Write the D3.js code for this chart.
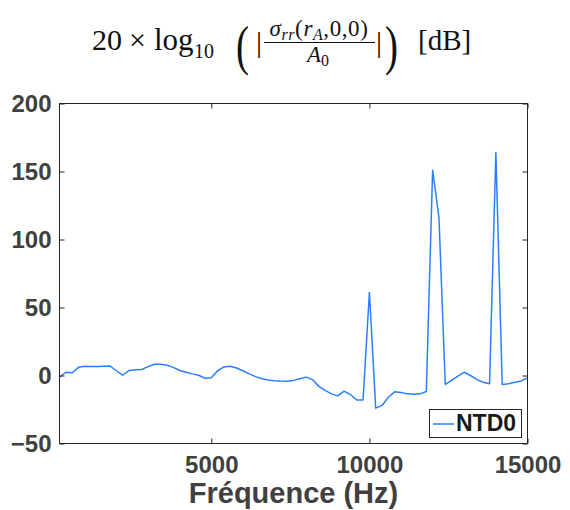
<!DOCTYPE html>
<html>
<head>
<meta charset="utf-8">
<script src="https://cdn.jsdelivr.net/npm/d3@7"></script>
<style>
  html, body { margin: 0; padding: 0; background: #fff; }
  svg { display: block; }
</style>
</head>
<body>
<svg id="chart" width="570" height="510"></svg>
<script>
// ---- data ----
const freqs = [200,400,600,800,1000,1200,1400,1600,1800,2000,2200,2400,2600,2800,3000,3200,3400,3600,3800,4000,
  4200,4400,4600,4800,5000,5200,5400,5600,5800,6000,6200,6400,6600,6800,7000,7200,7400,7600,7800,8000,
  8200,8400,8600,8800,9000,9200,9400,9600,9800,10000,10200,10400,10600,10800,11000,11200,11400,11600,11800,12000,
  12200,12400,12600,12800,13000,13200,13400,13600,13800,14000,14200,14400,14600,14800,15000];
const ntd0 = [-1.2,2.4,2.0,6.0,6.8,6.6,6.7,6.8,7.0,3.5,0.2,3.7,4.2,4.4,6.5,8.3,8.3,7.5,6.0,3.7,
  2.4,1.2,0.2,-2.0,-1.7,3.5,6.3,6.8,5.5,3.5,1.2,-0.8,-2.4,-3.3,-3.8,-4.1,-4.2,-3.6,-2.4,-1.2,
  -3.0,-8.0,-11.0,-13.5,-15.0,-11.5,-14.0,-18.0,-18.0,61.0,-24.0,-22.0,-16.0,-12.0,-12.5,-13.5,-13.8,-13.5,-11.8,151.0,
  116.0,-6.6,-3.5,-0.5,2.4,0.0,-3.0,-5.0,-6.0,164.0,-6.6,-6.0,-5.0,-4.0,-1.7];
const xTicks = [5000, 10000, 15000];
const yTicks = [-50, 0, 50, 100, 150, 200];
const xDomain = [200, 15000];
const yDomain = [-50, 200];
const seriesName = "NTD0";
const xLabel = "Fréquence (Hz)";

// ---- layout ----
const L = 59.5, R = 527.5, T = 103.5, B = 443.5;
const svg = d3.select("#chart");
const x = d3.scaleLinear().domain(xDomain).range([L, R]);
const y = d3.scaleLinear().domain(yDomain).range([B, T]);
const axisColor = "#262626";
const labelColor = "#404040";
const lineColor = "#2b7fff";

// line
const line = d3.line().x((d, i) => x(freqs[i])).y(d => y(d));
svg.append("path").datum(ntd0)
  .attr("fill", "none").attr("stroke", lineColor).attr("stroke-width", 1.5)
  .attr("stroke-linejoin", "round")
  .attr("d", line);

// axes
const tickFont = "bold 24px 'Liberation Sans', Arial, Helvetica, sans-serif";
const gB = svg.append("g").attr("transform", `translate(0,${B})`)
  .call(d3.axisBottom(x).tickValues(xTicks).tickSizeInner(-5).tickSizeOuter(0).tickPadding(12).tickFormat(d3.format("d")));
const gL = svg.append("g").attr("transform", `translate(${L},0)`)
  .call(d3.axisLeft(y).tickValues(yTicks).tickSizeInner(-5).tickSizeOuter(0).tickPadding(8).tickFormat(d3.format("d")));
const gT = svg.append("g").attr("transform", `translate(0,${T})`)
  .call(d3.axisTop(x).tickValues(xTicks).tickSizeInner(-5).tickSizeOuter(0).tickFormat(""));
const gR = svg.append("g").attr("transform", `translate(${R},0)`)
  .call(d3.axisRight(y).tickValues(yTicks).tickSizeInner(-5).tickSizeOuter(0).tickFormat(""));
[gB, gL, gT, gR].forEach(g => {
  g.select(".domain").remove();
  g.selectAll(".tick line").attr("stroke", axisColor).attr("stroke-width", 1);
  g.selectAll(".tick text").attr("fill", labelColor).style("font", tickFont);
});
// frame
svg.append("rect").attr("x", L).attr("y", T).attr("width", R - L).attr("height", B - T)
  .attr("fill", "none").attr("stroke", axisColor).attr("stroke-width", 1);

// x label
svg.append("text").attr("x", (L + R) / 2).attr("y", 503).attr("text-anchor", "middle")
  .attr("fill", labelColor).style("font", "bold 29px 'Liberation Sans', Arial, sans-serif")
  .text(xLabel);

// legend
const lg = svg.append("g");
lg.append("rect").attr("x", 429.5).attr("y", 409.5).attr("width", 92).attr("height", 28)
  .attr("fill", "#fff").attr("stroke", axisColor).attr("stroke-width", 1);
lg.append("line").attr("x1", 433).attr("x2", 454).attr("y1", 424).attr("y2", 424)
  .attr("stroke", lineColor).attr("stroke-width", 1.5);
lg.append("text").attr("x", 456).attr("y", 431).attr("fill", "#1a1a1a")
  .style("font", "bold 23px 'Liberation Sans', Arial, sans-serif").text(seriesName);

// title (math expression)
const serif = "'Liberation Serif', 'Times New Roman', serif";
const tg = svg.append("g").attr("fill", "#111").style("font-family", serif);
tg.append("text").attr("x", 92).attr("y", 50).style("font-size", "30px").text("20");
tg.append("text").attr("x", 129).attr("y", 50).style("font-size", "30px").text("×");
tg.append("text").attr("x", 154).attr("y", 50).style("font-size", "31px").text("log");
tg.append("text").attr("x", 194).attr("y", 58).style("font-size", "20px").text("10");
tg.append("text").attr("x", 0).attr("y", 0).style("font-size", "54px").style("font-weight", "300")
  .attr("transform", "translate(236,64) scale(0.72,1)").text("(");
tg.append("text").attr("x", 256).attr("y", 52).style("font-size", "30px").text("|");
// numerator
const num = tg.append("text").attr("x", 319).attr("y", 36).attr("text-anchor", "middle")
  .style("font-size", "23px").style("letter-spacing", "0.6px");
num.append("tspan").style("font-style", "italic").text("σ");
num.append("tspan").attr("dy", 4).style("font-style", "italic").style("font-size", "16px").text("rr");
num.append("tspan").attr("dy", -4).text("(");
num.append("tspan").style("font-style", "italic").text("r");
num.append("tspan").attr("dy", 4).style("font-style", "italic").style("font-size", "16px").text("A");
num.append("tspan").attr("dy", -4).text(",0,0)");
tg.append("line").attr("x1", 264).attr("x2", 375).attr("y1", 42.5).attr("y2", 42.5)
  .attr("stroke", "#111").attr("stroke-width", 1.2);
const den = tg.append("text").attr("x", 318).attr("y", 62).attr("text-anchor", "middle").style("font-size", "23px");
den.append("tspan").style("font-style", "italic").text("A");
den.append("tspan").attr("dy", 4).style("font-size", "16px").text("0");
tg.append("text").attr("x", 376).attr("y", 52).style("font-size", "30px").text("|");
tg.append("text").attr("x", 0).attr("y", 0).style("font-size", "54px").style("font-weight", "300")
  .attr("transform", "translate(385,64) scale(0.72,1)").text(")");
tg.append("text").attr("x", 418).attr("y", 50).style("font-size", "29px").text("[dB]");
</script>
</body>
</html>
